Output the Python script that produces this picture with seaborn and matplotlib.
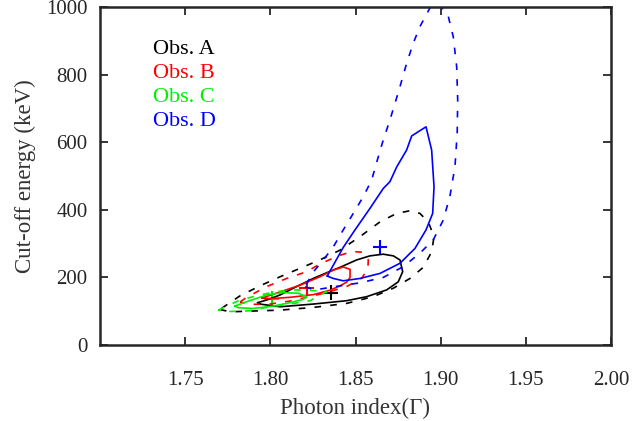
"""Konfidenzkonturen Photonenindex vs. Cut-off-Energie fuer vier Beobachtungen."""

import matplotlib
matplotlib.use('Agg')
import matplotlib.pyplot as plt
import pandas as pd
import seaborn as sns


# Konturen (Gamma, E_cut) - innere (durchgezogen) und aeussere (gestrichelt)
a_inner_x = [1.7939, 1.8057, 1.8252, 1.8448, 1.8566, 1.8683, 1.8751, 1.8777, 1.8761, 1.8722,
             1.8663, 1.8585, 1.8507, 1.8409, 1.8331, 1.8252, 1.8155, 1.8057, 1.7979, 1.7924]
a_inner_y = [120, 112, 120, 130, 142, 162, 186, 216, 251, 263,
             268, 263, 251, 229, 213, 196, 172, 147, 132, 124]
a_outer_x = [1.7704, 1.7763, 1.7880, 1.8057, 1.8252, 1.8448, 1.8604, 1.8722, 1.8820, 1.8898,
             1.8947, 1.8961, 1.8927, 1.8878, 1.8820, 1.8742, 1.8644, 1.8526, 1.8409, 1.8291,
             1.8174, 1.8057, 1.7939, 1.7821]
a_outer_y = [104, 97, 99, 102, 110, 122, 142, 167, 196, 229,
             275, 320, 364, 389, 397, 389, 364, 320, 280, 251,
             226, 201, 174, 144]

b_inner_x = [1.7951, 1.8057, 1.8174, 1.8291, 1.8369, 1.8428, 1.8468, 1.8468, 1.8448, 1.8409,
             1.8350, 1.8252, 1.8115, 1.7998]
b_inner_y = [138, 156, 176, 201, 221, 230, 223, 199, 185, 174,
             161, 148, 140, 136]
b_outer_x = [1.7822, 1.7861, 1.7979, 1.8096, 1.8213, 1.8291, 1.8399, 1.8479, 1.8538, 1.8575,
             1.8573, 1.8538, 1.8448, 1.8350, 1.8233, 1.8115, 1.7998, 1.7880]
b_outer_y = [126, 140, 172, 196, 216, 239, 263, 276, 274, 251,
             227, 197, 172, 157, 142, 129, 120, 119]

c_inner_x = [1.7792, 1.7861, 1.7979, 1.8076, 1.8164, 1.8213, 1.8193, 1.8115, 1.8017, 1.7900, 1.7812]
c_inner_y = [114, 127, 147, 154, 152, 142, 134, 124, 114, 107, 109]
c_outer_x = [1.7694, 1.7822, 1.7939, 1.8037, 1.8155, 1.8252, 1.8331, 1.8233, 1.8115, 1.7998,
             1.7880, 1.7763]
c_outer_y = [102, 132, 147, 157, 162, 160, 157, 130, 120, 112,
             100, 98]

d_inner_x = [1.8334, 1.8428, 1.8497, 1.8585, 1.8663, 1.8702, 1.8742, 1.8800, 1.8830, 1.8914,
             1.8947, 1.8961, 1.8953, 1.8914, 1.8849, 1.8761, 1.8644, 1.8526, 1.8428, 1.8370]
d_inner_y = [203, 288, 340, 404, 463, 483, 527, 577, 619, 646,
             577, 468, 389, 340, 285, 241, 211, 196, 189, 196]
d_outer_x = [1.8203, 1.8262, 1.8370, 1.8526, 1.8663, 1.8780, 1.8878, 1.8956, 1.9015, 1.9054,
             1.9084, 1.9097, 1.9100, 1.9094, 1.9074, 1.9045, 1.8996, 1.8949, 1.8878, 1.8839,
             1.8800, 1.8761, 1.8732, 1.8702, 1.8663, 1.8628, 1.8595, 1.8546, 1.8487, 1.8428,
             1.8370, 1.8311, 1.8252]
d_outer_y = [171, 162, 171, 183, 199, 231, 271, 310, 369, 439,
             528, 627, 725, 824, 913, 973, 1007, 1010, 943, 894,
             834, 765, 716, 666, 607, 547, 488, 439, 389, 340,
             290, 251, 215]

# Bestwerte
best_labels = ['Obs. A', 'Obs. B', 'Obs. C', 'Obs. D']
best_x = [1.8356, 1.8213, 1.8008, 1.8644]
best_y = [154, 167, 136, 288]

COLORS = ['black', '#ff0000', '#00f000', '#0000ff']


def closed(xs, ys):
    return pd.DataFrame({'x': xs + xs[:1], 'y': ys + ys[:1]})


sns.set_style('ticks')
plt.rcParams['font.family'] = ['Liberation Serif', 'DejaVu Serif']

fig = plt.figure(figsize=(6.32, 4.21), dpi=100)
ax = fig.add_axes([0.1582, 0.1817, 0.8086, 0.8005])

contours = [
    (a_inner_x, a_inner_y, a_outer_x, a_outer_y),
    (b_inner_x, b_inner_y, b_outer_x, b_outer_y),
    (c_inner_x, c_inner_y, c_outer_x, c_outer_y),
    (d_inner_x, d_inner_y, d_outer_x, d_outer_y),
]
for (ix, iy, ox, oy), col in zip(contours, COLORS):
    sns.lineplot(data=closed(ix, iy), x='x', y='y', sort=False, estimator=None,
                 color=col, lw=1.2, ax=ax)
    sns.lineplot(data=closed(ox, oy), x='x', y='y', sort=False, estimator=None,
                 color=col, lw=1.2, ax=ax, linestyle=(0, (4, 5.5)))

best = pd.DataFrame({'x': best_x, 'y': best_y, 'obs': best_labels})
sns.scatterplot(data=best, x='x', y='y', hue='obs', palette=COLORS, marker='+',
                s=110, linewidth=1.5, legend=False, ax=ax)

for i, (lab, col) in enumerate(zip(best_labels, COLORS)):
    ax.text(0.103, 0.875 - i * 0.0712, lab, color=col, fontsize=16,
            transform=ax.transAxes, va='center', ha='left')

ax.set_xlim(1.70, 2.00)
ax.set_ylim(0, 1000)
ax.set_xticks([1.75, 1.80, 1.85, 1.90, 1.95, 2.00])
ax.set_xticklabels(['1.75', '1.80', '1.85', '1.90', '1.95', '2.00'])
ax.set_yticks([0, 200, 400, 600, 800, 1000])
ax.tick_params(direction='in', length=6, width=1.3, labelsize=15,
               top=True, right=True, pad=9)
ax.tick_params(axis='x', pad=19)
for sp in ax.spines.values():
    sp.set_linewidth(1.8)

ax.set_xlabel('Photon index(Γ)', fontsize=16.5, color='#333333', labelpad=6)
ax.set_ylabel('Cut-off energy (keV)', fontsize=16.5, color='#333333', labelpad=7)

fig.savefig('out.png', dpi=100)
plt.close(fig)
